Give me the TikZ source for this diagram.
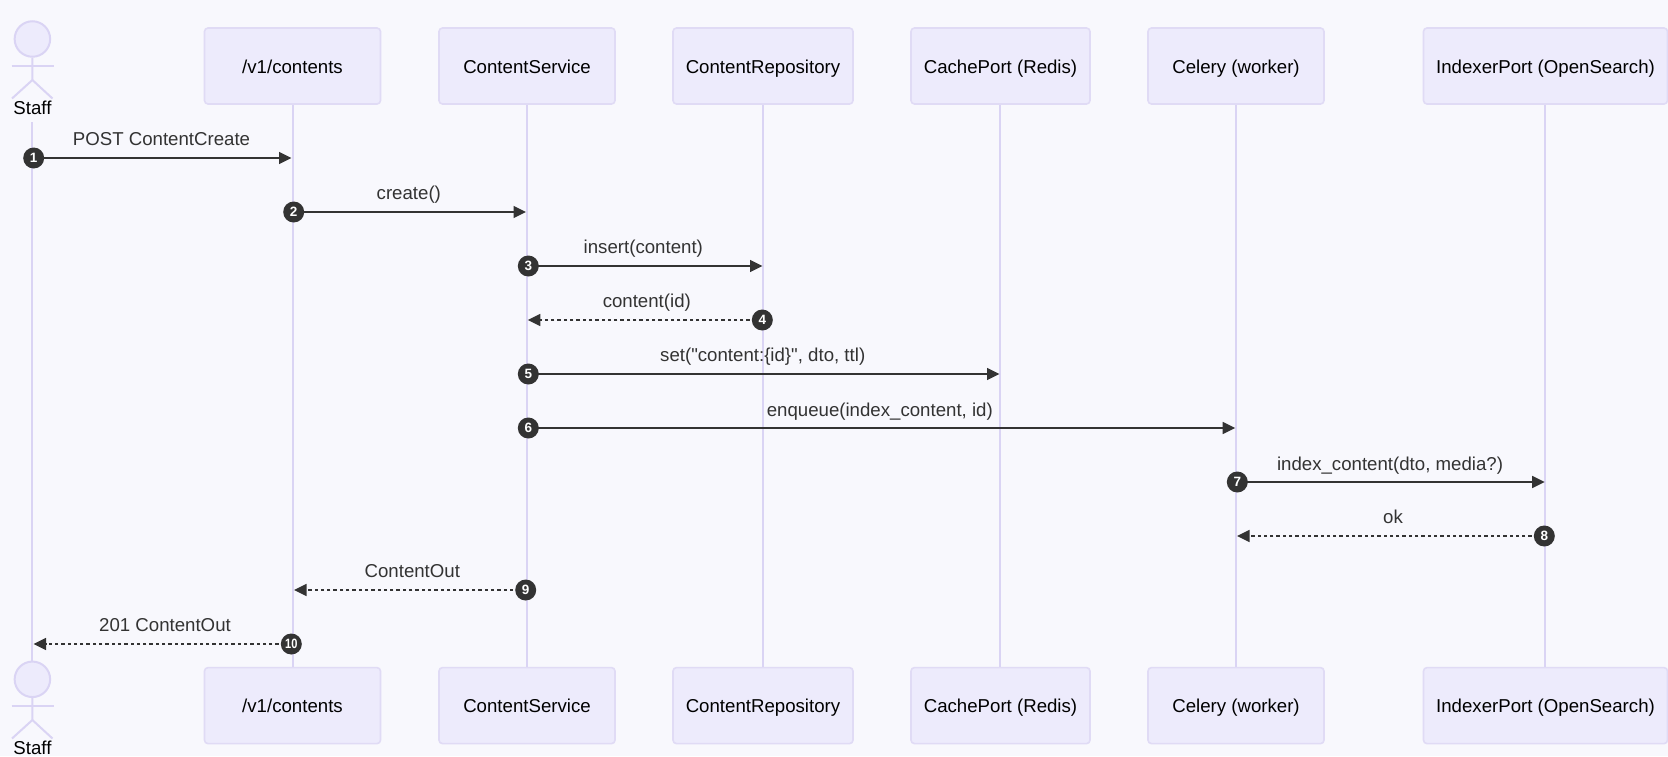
\documentclass[tikz,border=0pt]{standalone}
\usepackage{fontspec}
\setmainfont{Liberation Sans}[Ligatures=TeXOff]
\usetikzlibrary{arrows.meta}
\definecolor{bgc}{HTML}{F8F8FD}
\definecolor{boxfill}{HTML}{EDEBFC}
\definecolor{boxline}{HTML}{E0DBF5}
\definecolor{lifec}{HTML}{DAD4F4}
\definecolor{ink}{HTML}{333333}
\newcommand{\lbl}{\fontsize{18.65}{22}\selectfont}
\tikzset{
  x=1pt,y=-1pt,
  actorbox/.style={draw=boxline,fill=boxfill,line width=1.6pt,rounded corners=3.5pt,minimum width=#1,minimum height=76pt,inner sep=0pt,text=black,font=\lbl,text height=16pt,text depth=1.4pt},
  life/.style={draw=lifec,line width=2.2pt},
  stick/.style={draw=lifec,line width=2pt},
  head/.style={circle,draw=lifec,fill=boxfill,line width=2pt,minimum size=35.5pt,inner sep=0pt},
  who/.style={anchor=base,inner sep=0pt,text=black,font=\lbl},
  msg/.style={anchor=base,inner sep=0pt,text=ink,font=\lbl},
  solidmsg/.style={draw=ink,line width=1.7pt,-{Triangle[length=12.5pt,width=12pt]},fill=ink},
  backmsg/.style={draw=ink,line width=1.7pt,dash pattern=on 3.3pt off 3pt,-{Triangle[length=12.5pt,width=12pt,fill=ink]}},
  badge/.style={circle,fill=ink,text=white,minimum size=21pt,inner sep=0pt,font=\fontsize{13.5}{13.5}\selectfont\bfseries}
}
\begin{document}
\begin{tikzpicture}
\useasboundingbox (0,0) rectangle (1668,756);
\fill[bgc] (0,0) rectangle (1668,756);
% actors: lifeline anchors
\coordinate (stafftop) at (32,122);
\coordinate (staffbot) at (32,662);
\coordinate (aT) at (293,104); \coordinate (aB) at (293,668);
\coordinate (bT) at (527,104); \coordinate (bB) at (527,668);
\coordinate (cT) at (763,104); \coordinate (cB) at (763,668);
\coordinate (dT) at (1000,104); \coordinate (dB) at (1000,668);
\coordinate (eT) at (1236,104); \coordinate (eB) at (1236,668);
\coordinate (fT) at (1545,104); \coordinate (fB) at (1545,668);
\draw[life] (stafftop) -- (staffbot);
\draw[life] (aT) -- (aB);
\draw[life] (bT) -- (bB);
\draw[life] (cT) -- (cB);
\draw[life] (dT) -- (dB);
\draw[life] (eT) -- (eB);
\draw[life] (fT) -- (fB);
% top boxes
\node[actorbox=176pt] (a1) at (292.5,66) {/v1/contents};
\node[actorbox=176pt] (b1) at (527,66) {ContentService};
\node[actorbox=180pt] (c1) at (763,66) {ContentRepository};
\node[actorbox=179pt] (d1) at (1000.5,66) {CachePort (Redis)};
\node[actorbox=176pt] (e1) at (1236,66) {Celery (worker)};
\node[actorbox=244pt] (f1) at (1545.5,66) {IndexerPort (OpenSearch)};
% bottom boxes
\node[actorbox=176pt] (a2) at (292.5,705.6) {/v1/contents};
\node[actorbox=176pt] (b2) at (527,705.6) {ContentService};
\node[actorbox=180pt] (c2) at (763,705.6) {ContentRepository};
\node[actorbox=179pt] (d2) at (1000.5,705.6) {CachePort (Redis)};
\node[actorbox=176pt] (e2) at (1236,705.6) {Celery (worker)};
\node[actorbox=244pt] (f2) at (1545.5,705.6) {IndexerPort (OpenSearch)};
% stick figures
\node[head] (h1) at (32.4,39) {};
\draw[stick] (h1.south) -- (32.4,80) -- (12,98.5);
\draw[stick] (32.4,80) -- (52.5,98.5);
\draw[stick] (11.5,66) -- (53.5,66);
\node[who] (s1) at (32.5,114) {Staff};
\node[head] (h2) at (32.4,679.3) {};
\draw[stick] (h2.south) -- (32.4,720) -- (12,738.5);
\draw[stick] (32.4,720) -- (52.5,738.5);
\draw[stick] (11.5,706) -- (53.5,706);
\node[who] (s2) at (32.5,754.3) {Staff};
% arrow tips
\coordinate (t1) at (291.5,158);
\coordinate (t2) at (526,212);
\coordinate (t3) at (762.5,266);
\coordinate (t4) at (527.8,320);
\coordinate (t5) at (999.5,374);
\coordinate (t6) at (1235.2,428);
\coordinate (t7) at (1544.7,482);
\coordinate (t8) at (1237,536);
\coordinate (t9) at (294,590);
\coordinate (t10) at (33.5,644);
% badges (positioned first, drawn after the lines)
\path (33.7,158) coordinate (p1) (293.7,212) coordinate (p2) (528.3,266) coordinate (p3)
      (762.3,320) coordinate (p4) (528.3,374) coordinate (p5) (528.3,428) coordinate (p6)
      (1237.3,482) coordinate (p7) (1544.3,536) coordinate (p8) (525.7,590) coordinate (p9)
      (291.3,644) coordinate (p10);
\draw[solidmsg] (p1) -- (t1);
\draw[solidmsg] (p2) -- (t2);
\draw[solidmsg] (p3) -- (t3);
\draw[backmsg] (p4) -- (t4);
\draw[solidmsg] (p5) -- (t5);
\draw[solidmsg] (p6) -- (t6);
\draw[solidmsg] (p7) -- (t7);
\draw[backmsg] (p8) -- (t8);
\draw[backmsg] (p9) -- (t9);
\draw[backmsg] (p10) -- (t10);
\node[badge] (n1) at (p1) {1};
\node[badge] (n2) at (p2) {2};
\node[badge] (n3) at (p3) {3};
\node[badge] (n4) at (p4) {4};
\node[badge] (n5) at (p5) {5};
\node[badge] (n6) at (p6) {6};
\node[badge] (n7) at (p7) {7};
\node[badge] (n8) at (p8) {8};
\node[badge] (n9) at (p9) {9};
\node[badge] (n10) at (p10) {\scalebox{0.82}[1]{10}};
% message labels
\node[msg] (m1) at (161.5,145) {POST ContentCreate};
\node[msg] (m2) at (408.8,199) {create()};
\node[msg] (m3) at (643.3,253) {insert(content)};
\node[msg] (m4) at (646.8,307) {content(id)};
\node[msg] (m5) at (762.7,361) {set("content:\{id\}", dto, ttl)};
\node[msg] (m6) at (879.8,416) {enqueue(index\_content, id)};
\node[msg] (m7) at (1390,470) {index\_content(dto, media?)};
\node[msg] (m8) at (1393,523.5) {ok};
\node[msg] (m9) at (412.3,577.3) {ContentOut};
\node[msg] (m10) at (165,631.5) {201 ContentOut};
\end{tikzpicture}
\end{document}
